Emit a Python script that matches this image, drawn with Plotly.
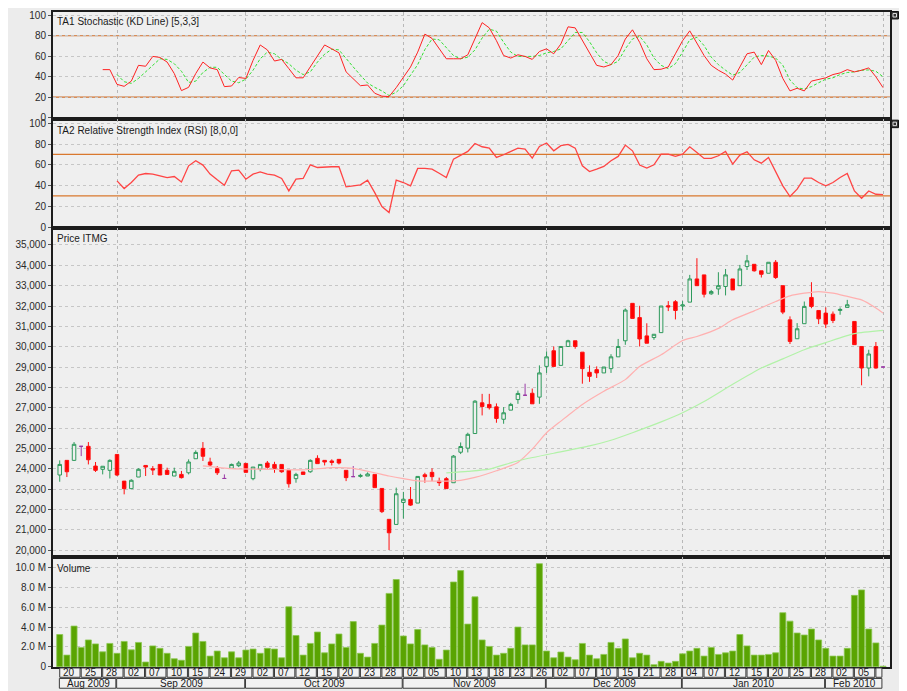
import datetime as dt
import plotly.graph_objects as go

# ---------------- data ----------------
dates = [
    "2009-08-20", "2009-08-21", "2009-08-24", "2009-08-25", "2009-08-26", "2009-08-27", "2009-08-28", "2009-08-31",
    "2009-09-01", "2009-09-02", "2009-09-03", "2009-09-04", "2009-09-07", "2009-09-08", "2009-09-09", "2009-09-10",
    "2009-09-11", "2009-09-14", "2009-09-15", "2009-09-16", "2009-09-17", "2009-09-24", "2009-09-25", "2009-09-28",
    "2009-09-29", "2009-09-30",
    "2009-10-01", "2009-10-02", "2009-10-05", "2009-10-06", "2009-10-07", "2009-10-08", "2009-10-09", "2009-10-12",
    "2009-10-13", "2009-10-14", "2009-10-15", "2009-10-16", "2009-10-19", "2009-10-20", "2009-10-21", "2009-10-22",
    "2009-10-23", "2009-10-26", "2009-10-27", "2009-10-28", "2009-10-29", "2009-10-30",
    "2009-11-02", "2009-11-03", "2009-11-04", "2009-11-05", "2009-11-06", "2009-11-09", "2009-11-10", "2009-11-11",
    "2009-11-12", "2009-11-13", "2009-11-16", "2009-11-17", "2009-11-18", "2009-11-19", "2009-11-20", "2009-11-23",
    "2009-11-24", "2009-11-25", "2009-11-26", "2009-11-30",
    "2009-12-01", "2009-12-02", "2009-12-03", "2009-12-04", "2009-12-07", "2009-12-08", "2009-12-09", "2009-12-10",
    "2009-12-11", "2009-12-14", "2009-12-15", "2009-12-16", "2009-12-17", "2009-12-21", "2009-12-22", "2009-12-23",
    "2009-12-28", "2009-12-29", "2009-12-30",
    "2010-01-04", "2010-01-05", "2010-01-06", "2010-01-07", "2010-01-08", "2010-01-11", "2010-01-12", "2010-01-13",
    "2010-01-14", "2010-01-15", "2010-01-18", "2010-01-19", "2010-01-20", "2010-01-21", "2010-01-22", "2010-01-25",
    "2010-01-26", "2010-01-27", "2010-01-28", "2010-01-29",
    "2010-02-01", "2010-02-02", "2010-02-03", "2010-02-04", "2010-02-05", "2010-02-08", "2010-02-09", "2010-02-10",
    "2010-02-11",
]

opens = [23690, 24410, 24410, 25100, 25100, 24130, 23970, 23920, 24700, 23390,
         23020, 23590, 24160, 24000, 24210, 23920, 23640, 23720, 23800, 24490,
         25000, 24330, 24000, 23520, 24020, 24150, 24260, 23510, 23980, 24280,
         24210, 24210, 23920, 23510, 23840, 23850, 24510, 24410, 24380, 24460,
         23920, 23610, 23620, 23640, 23720, 23030, 21510, 21260, 22340, 22490,
         22310, 23700, 23820, 23390, 23510, 23310, 24810, 25010, 25730, 27240,
         27160, 27040, 26430, 26880, 27400, 27610, 27710, 27520, 29030, 29800,
         29080, 30010, 30290, 29730, 28740, 28870, 28710, 28920, 29500, 30290,
         32130, 31430, 30530, 30450, 30690, 32010, 32210, 32000, 32190, 33330,
         33530, 32600, 32840, 32960, 33330, 33000, 33940, 34050, 33730, 33610,
         34150, 33000, 31320, 30390, 31130, 32420, 31780, 31650, 31600, 31780,
         31930, 31240, 30010, 28950, 30010, 29000]
highs = [24410, 24410, 25310, 25100, 25310, 24330, 24120, 24460, 24700, 23390,
         23480, 24020, 24160, 24130, 24210, 24050, 24050, 23890, 24460, 24900,
         25310, 24540, 24130, 23720, 24250, 24380, 24260, 24080, 24210, 24380,
         24340, 24210, 23920, 23800, 23840, 24460, 24660, 24410, 24460, 24460,
         23920, 24130, 23750, 23820, 23720, 23030, 21510, 23070, 22860, 23100,
         23620, 23800, 24020, 23560, 23590, 24670, 25290, 25770, 27370, 27680,
         27680, 27210, 27030, 27240, 27840, 28180, 27940, 29080, 29770, 30010,
         30010, 30340, 30290, 29730, 29080, 29030, 29000, 29630, 30380, 31880,
         32130, 32010, 31150, 30610, 32000, 32240, 32290, 32240, 33530, 34350,
         33530, 32790, 33660, 33820, 33330, 34020, 34510, 34050, 33730, 34150,
         34260, 33000, 31490, 31160, 32220, 33170, 31780, 31930, 31730, 31930,
         32300, 31240, 30010, 29850, 30230, 29000]
lows = [23360, 23590, 24380, 24620, 24210, 23840, 23720, 23520, 23640, 22740,
        23020, 23590, 23640, 23690, 23690, 23720, 23640, 23520, 23720, 24490,
        24380, 24130, 23690, 23520, 24020, 24080, 23820, 23430, 23870, 24000,
        23800, 23800, 23070, 23310, 23720, 23800, 24250, 24160, 24160, 24210,
        23390, 23610, 23560, 23640, 23070, 21820, 20000, 21260, 21550, 22170,
        22310, 23310, 23390, 23150, 23020, 23310, 24720, 24800, 25730, 26620,
        26910, 26260, 26210, 26880, 27190, 27610, 27190, 27190, 28710, 29030,
        29080, 30010, 29900, 28180, 28270, 28460, 28710, 28710, 29500, 30090,
        31390, 30010, 30170, 30340, 30690, 31750, 31340, 31780, 32190, 33000,
        32420, 32550, 32550, 32520, 32790, 33000, 33770, 33690, 33400, 33610,
        33330, 31600, 30130, 30390, 31130, 31890, 31110, 30910, 31160, 31570,
        31930, 30100, 28100, 28540, 28920, 29000]
closes = [24210, 23850, 25200, 25100, 24440, 23920, 24120, 24410, 23690, 23020,
          23430, 23970, 24080, 23940, 23690, 23720, 23870, 23560, 24330, 24800,
          24610, 24180, 23800, 23520, 24210, 24280, 23820, 24080, 24210, 24070,
          24020, 23850, 23260, 23720, 23720, 24410, 24250, 24330, 24310, 24280,
          23560, 23610, 23670, 23740, 23070, 21890, 20850, 22770, 22500, 22210,
          23620, 23610, 23610, 23310, 23020, 24620, 25090, 25690, 27320, 27060,
          27000, 26470, 26750, 27160, 27700, 27610, 27190, 28710, 29500, 29030,
          30010, 30290, 30010, 28920, 28540, 28710, 29000, 29500, 30010, 31800,
          31390, 30380, 30170, 30610, 32000, 31960, 31780, 32050, 33330, 33000,
          32580, 32710, 33000, 33530, 32790, 33820, 34220, 33730, 33560, 34150,
          33400, 31700, 30260, 30880, 31980, 31980, 31370, 31110, 31290, 31830,
          32060, 30100, 28950, 29640, 28950, 29000]

volume_m = [3.25, 1.17, 4.1, 1.95, 2.7, 2.3, 1.5, 2.35, 1.35, 2.55,
            1.7, 2.45, 0.47, 2.1, 1.85, 1.35, 0.8, 0.65, 2.05, 3.4,
            2.55, 1.07, 1.58, 0.9, 1.5, 0.9, 1.68, 1.78, 1.35, 1.85,
            1.78, 0.9, 6.05, 3.15, 1.17, 2.35, 3.5, 1.4, 2.3, 3.3,
            1.95, 4.55, 1.35, 0.97, 2.35, 4.2, 7.4, 8.8, 3.1, 2.3,
            3.75, 2.2, 1.95, 0.75, 1.68, 8.55, 9.7, 4.3, 7.05, 2.7,
            2.05, 1.17, 1.35, 1.85, 4.0, 2.2, 2.2, 10.4, 1.58, 0.9,
            1.48, 0.97, 0.7, 2.35, 1.17, 0.8, 1.24, 2.45, 1.85, 2.8,
            0.9, 1.35, 1.17, 0.2, 0.54, 0.37, 0.54, 1.3, 1.58, 1.85,
            1.07, 1.95, 1.24, 1.4, 1.58, 3.25, 2.1, 1.17, 1.17, 1.24,
            1.4, 5.45, 4.6, 3.4, 3.2, 3.8, 2.7, 1.85, 1.07, 1.07,
            1.85, 7.2, 7.75, 3.8, 2.4, 0.05]

stoch_k_start = 6
stoch_k = [46.9, 46.9, 32.5, 30.6, 35.7, 51.1, 50.2, 59.8, 58.8, 54.3,
           43.1, 26.4, 29.6, 43.1, 54.3, 48.6, 46.9, 30.3, 30.9, 39.2,
           38.3, 55.9, 71.0, 66.2, 55.3, 56.9, 47.9, 38.9, 38.9, 49.5,
           60.7, 71.0, 67.2, 63.3, 44.7, 37.6, 31.2, 31.9, 23.8, 21.0,
           20.6, 29.3, 39.9, 49.5, 64.0, 81.6, 77.4, 67.2, 57.5, 57.5,
           57.5, 61.4, 76.8, 92.8, 87.7, 75.2, 60.7, 58.2, 61.4, 59.8,
           56.9, 64.6, 67.2, 62.4, 72.0, 88.7, 87.7, 75.2, 64.0, 51.1,
           49.5, 51.8, 60.7, 76.8, 85.8, 73.6, 57.5, 46.9, 47.3, 49.5,
           62.4, 75.2, 84.8, 72.0, 60.7, 51.1, 46.3, 42.5, 36.7, 49.5,
           62.4, 64.0, 51.8, 65.6, 55.9, 38.3, 26.1, 28.7, 26.1, 35.7,
           37.6, 38.9, 42.1, 43.7, 46.9, 44.7, 46.3, 48.6, 39.9, 29.3]
stoch_d_start = 8
stoch_d = [42.1, 35.1, 33.5, 38.3, 44.7, 51.1, 57.5, 56.9, 52.7, 45.3,
           34.4, 35.7, 44.1, 49.2, 49.2, 42.1, 35.7, 34.1, 37.6, 46.3,
           57.5, 64.0, 62.4, 56.9, 52.7, 46.3, 42.1, 44.7, 54.3, 62.0,
           66.8, 66.2, 57.5, 49.5, 41.5, 33.8, 29.6, 26.1, 21.6, 24.8,
           31.2, 40.9, 51.8, 66.5, 76.8, 76.1, 68.1, 60.7, 57.5, 59.1,
           66.2, 77.8, 86.4, 84.5, 73.6, 64.0, 59.8, 59.8, 59.8, 60.7,
           63.3, 64.6, 67.2, 75.2, 83.2, 83.2, 74.2, 63.3, 54.9, 51.8,
           55.0, 67.2, 76.8, 79.4, 71.0, 58.2, 51.1, 47.9, 52.7, 64.0,
           76.1, 78.4, 70.4, 59.1, 51.8, 46.3, 41.5, 44.1, 51.1, 59.1,
           60.7, 60.1, 58.2, 51.1, 36.7, 29.3, 27.8, 30.3, 34.1, 37.6,
           38.9, 42.1, 44.1, 44.7, 46.3, 46.6, 45.3, 39.9]
rsi_start = 8
rsi = [44.5, 37.1, 42.9, 50.0, 51.6, 51.0, 49.4, 47.7, 48.7, 43.5,
       59.0, 63.9, 59.7, 51.0, 45.5, 40.3, 54.2, 54.8, 46.1, 51.0,
       53.2, 51.0, 50.0, 46.8, 34.8, 46.1, 46.8, 60.0, 57.4, 58.1,
       58.1, 58.1, 38.7, 39.7, 40.6, 45.2, 33.2, 19.7, 13.9, 45.2,
       42.9, 39.7, 56.5, 56.5, 55.8, 51.9, 47.7, 65.5, 69.4, 72.9,
       80.6, 77.4, 76.1, 67.1, 69.7, 72.9, 76.1, 75.2, 66.5, 77.7,
       81.0, 73.5, 78.4, 79.7, 76.1, 59.0, 53.5, 55.8, 58.4, 63.9,
       68.1, 79.0, 73.5, 59.7, 56.8, 60.0, 70.3, 70.3, 68.1, 70.3,
       77.4, 71.9, 66.1, 66.1, 68.7, 72.9, 60.6, 69.4, 72.6, 64.8,
       61.6, 67.1, 53.2, 39.7, 29.4, 36.5, 47.1, 47.1, 42.9, 39.7,
       42.9, 47.7, 51.6, 34.8, 27.7, 34.8, 31.6, 31.3]

ma_short_idx = [20, 24, 29, 34, 38, 41, 44, 46, 48, 50, 53, 56, 58, 61, 64, 66, 68, 70, 73, 76,
                79, 81, 84, 87, 89, 92, 94, 97, 100, 102, 104, 106, 108, 110, 112, 114, 115]
ma_short = [24140, 24000, 23970, 23940, 24050, 24020, 23800, 23640, 23510, 23400, 23390, 23430,
            23570, 23900, 24310, 24960, 25770, 26340, 27160, 27810, 28380, 29030, 29600, 30300,
            30500, 30900, 31320, 31760, 32220, 32500, 32630, 32710, 32630, 32470, 32300, 31900, 31650]
ma_long_idx = [54, 57, 60, 64, 69, 74, 77, 80, 84, 87, 90, 94, 98, 101, 104, 107, 111, 115]
ma_long = [23790, 23870, 23980, 24390, 24760, 25120, 25400, 25770, 26300, 26750, 27300, 28150,
           28950, 29400, 29850, 30200, 30640, 30800]

stoch_levels = [80, 20]
rsi_levels = [70, 30]
price_ticks = list(range(20000, 35001, 1000))
volume_ticks = [0, 2, 4, 6, 8, 10]
volume_ticktext = ["0", "2.0 M", "4.0 M", "6.0 M", "8.0 M", "10.0 M"]

# ---------------- layout geometry (page pixels) ----------------
PAGE_W, PAGE_H = 907, 691
BODY = 8                      # default page margin around the figure
W, H = PAGE_W - BODY, PAGE_H - BODY
PL, PR, PT, PB = 53, 890, 10, 667
FONT = "Liberation Sans"
FS = 10
BG = "#efefef"


def yp(p):
    return (PB - p) / (PB - PT)


def xp(p):
    return (p - PL) / (PR - PL)


n = len(dates)
xs = list(range(n))
b1, b2, b3 = 117.3, 226.7, 557.0

fig = go.Figure()

# Stochastic
fig.add_trace(go.Scatter(x=xs[stoch_d_start:], y=stoch_d, xaxis="x", yaxis="y", mode="lines",
                         line=dict(color="#33e033", width=1, dash="3px,2px"), showlegend=False))
fig.add_trace(go.Scatter(x=xs[stoch_k_start:], y=stoch_k, xaxis="x", yaxis="y", mode="lines",
                         line=dict(color="#ff2222", width=1), showlegend=False))
# RSI
fig.add_trace(go.Scatter(x=xs[rsi_start:], y=rsi, xaxis="x2", yaxis="y2", mode="lines",
                         line=dict(color="#ff4444", width=1.3), showlegend=False))
# Moving averages
fig.add_trace(go.Scatter(x=ma_short_idx, y=ma_short, xaxis="x3", yaxis="y3", mode="lines",
                         line=dict(color="#ffb0b0", width=1.2, shape="spline", smoothing=0.6), showlegend=False))
fig.add_trace(go.Scatter(x=ma_long_idx, y=ma_long, xaxis="x3", yaxis="y3", mode="lines",
                         line=dict(color="#b2f2a8", width=1.2, shape="spline", smoothing=0.6), showlegend=False))

# Candles (non-doji and doji separately)
doji = [o == c for o, c in zip(opens, closes)]


def pick(arr, want):
    return [v if d == want else None for v, d in zip(arr, doji)]


fig.add_trace(go.Candlestick(
    x=xs, open=pick(opens, False), high=pick(highs, False), low=pick(lows, False), close=pick(closes, False),
    xaxis="x3", yaxis="y3", showlegend=False,
    increasing=dict(line=dict(color="#2e9a5c", width=1), fillcolor=BG),
    decreasing=dict(line=dict(color="#ff1010", width=1), fillcolor="#ff0000"),
))
fig.add_trace(go.Candlestick(
    x=xs, open=pick(opens, True), high=pick(highs, True), low=pick(lows, True), close=pick(closes, True),
    xaxis="x3", yaxis="y3", showlegend=False,
    increasing=dict(line=dict(color="#9a3aa6", width=1), fillcolor="#9a3aa6"),
    decreasing=dict(line=dict(color="#9a3aa6", width=1), fillcolor="#9a3aa6"),
))

# Volume
fig.add_trace(go.Bar(x=xs, y=volume_m, xaxis="x4", yaxis="y4", width=0.84,
                     marker=dict(color="#5aa402", line=dict(color="#8cc850", width=0.8)),
                     showlegend=False))

# ---------------- axes ----------------
month_starts = [i for i in range(n) if i == 0 or dates[i][:7] != dates[i - 1][:7]]
grid_vals = month_starts[1:] + [n - 1]

xcommon = dict(range=[-0.94, n - 0.03], showticklabels=False, ticks="", tickvals=grid_vals,
               showgrid=True, gridcolor="#b8b8b8", griddash="3px,3px", gridwidth=1,
               showline=True, mirror=True, linecolor="#1c1c1c", linewidth=2, zeroline=False,
               domain=[0, 1])
ycommon = dict(showgrid=True, gridcolor="#c6c6c6", griddash="3px,3px", gridwidth=1,
               ticks="outside", ticklen=3, tickcolor="#555",
               tickfont=dict(family=FONT, size=FS, color="#2a2a2a"),
               showline=True, mirror=True, linecolor="#1c1c1c", linewidth=2, zeroline=False)

fig.update_layout(
    xaxis=dict(**xcommon, anchor="y"),
    xaxis2=dict(**xcommon, anchor="y2", matches="x"),
    xaxis3=dict(**xcommon, anchor="y3", matches="x", rangeslider=dict(visible=False)),
    xaxis4=dict(**xcommon, anchor="y4", matches="x"),
    yaxis=dict(**ycommon, domain=[yp(b1), 1.0], range=[-1.3, 103.2], tickvals=[0, 20, 40, 60, 80, 100], anchor="x"),
    yaxis2=dict(**ycommon, domain=[yp(b2), yp(b1)], range=[-1.0, 104.2], tickvals=[0, 20, 40, 60, 80, 100], anchor="x2"),
    yaxis3=dict(**ycommon, domain=[yp(b3), yp(b2)], range=[19642, 35833], tickvals=price_ticks,
                tickformat=",", anchor="x3"),
    yaxis4=dict(**ycommon, domain=[0, yp(b3)], range=[-0.03, 11.04], tickvals=volume_ticks,
                ticktext=volume_ticktext, anchor="x4"),
)

shapes = []
# reference level lines
for lv in stoch_levels:
    shapes.append(dict(type="line", xref="x domain", yref="y", x0=0, x1=1, y0=lv, y1=lv,
                       line=dict(color="#cf6e2a", width=1.2), layer="below"))
for lv in rsi_levels:
    shapes.append(dict(type="line", xref="x2 domain", yref="y2", x0=0, x1=1, y0=lv, y1=lv,
                       line=dict(color="#d9782e", width=1.2), layer="below"))

annotations = []
titles = [("TA1 Stochastic (KD Line) [5,3,3]", 13.5),
          ("TA2 Relative Strength Index (RSI) [8,0,0]", 122.0),
          ("Price ITMG", 230.5),
          ("Volume", 562.0)]
for txt, top in titles:
    annotations.append(dict(text=txt, xref="paper", yref="paper", x=xp(56), y=yp(top),
                            xanchor="left", yanchor="top", showarrow=False, borderpad=0,
                            font=dict(family=FONT, size=FS, color="#1a1a1a")))

# date label boxes (two rows below the volume panel)
r1a, r1b = 668.0, 677.3
r2a, r2b = 678.5, 688.3
box_line = dict(color="#3a3a3a", width=1)
for k in range(0, n, 3):
    end = min(k + 3, n - 1)
    shapes.append(dict(type="rect", xref="x4", yref="paper", x0=k, x1=end - 0.16,
                       y0=yp(r1b), y1=yp(r1a), line=box_line, fillcolor="#f2f2f2", layer="above"))
    if k + 3 <= n - 1:
        annotations.append(dict(text=dates[k][8:10], xref="x4", yref="paper", x=k, xshift=2.5,
                                y=yp((r1a + r1b) / 2), xanchor="left", yanchor="middle", showarrow=False,
                                borderpad=0, font=dict(family=FONT, size=FS, color="#1a1a1a")))
for j, s in enumerate(month_starts):
    e = month_starts[j + 1] if j + 1 < len(month_starts) else n - 1
    shapes.append(dict(type="rect", xref="x4", yref="paper", x0=s - 0.05, x1=e - 0.16,
                       y0=yp(r2b), y1=yp(r2a), line=box_line, fillcolor="#f2f2f2", layer="above"))
    label = dt.date.fromisoformat(dates[s]).strftime("%b %Y")
    annotations.append(dict(text=label, xref="x4", yref="paper", x=(s + e) / 2, y=yp((r2a + r2b) / 2),
                            xanchor="center", yanchor="middle", showarrow=False, borderpad=0,
                            font=dict(family=FONT, size=FS, color="#1a1a1a")))

# small panel icons at the top-right corners
for top in (9.5, 118.5):
    shapes.append(dict(type="rect", xref="paper", yref="paper", x0=xp(891), x1=xp(898.5),
                       y0=yp(top + 7.5), y1=yp(top), line=dict(color="#111", width=1), fillcolor="#333"))
    shapes.append(dict(type="rect", xref="paper", yref="paper", x0=xp(893), x1=xp(896.5),
                       y0=yp(top + 5.5), y1=yp(top + 2), line=dict(color="#ddd", width=1), fillcolor="#333"))

fig.update_layout(
    width=W, height=H, autosize=False,
    margin=dict(l=PL - BODY, r=PAGE_W - PR, t=PT - BODY, b=PAGE_H - PB),
    paper_bgcolor="#ececec", plot_bgcolor=BG,
    showlegend=False, shapes=shapes, annotations=annotations,
    font=dict(family=FONT, size=FS, color="#333"),
    boxgap=0.3, bargap=0.1,
)

fig.write_html("out.html")
